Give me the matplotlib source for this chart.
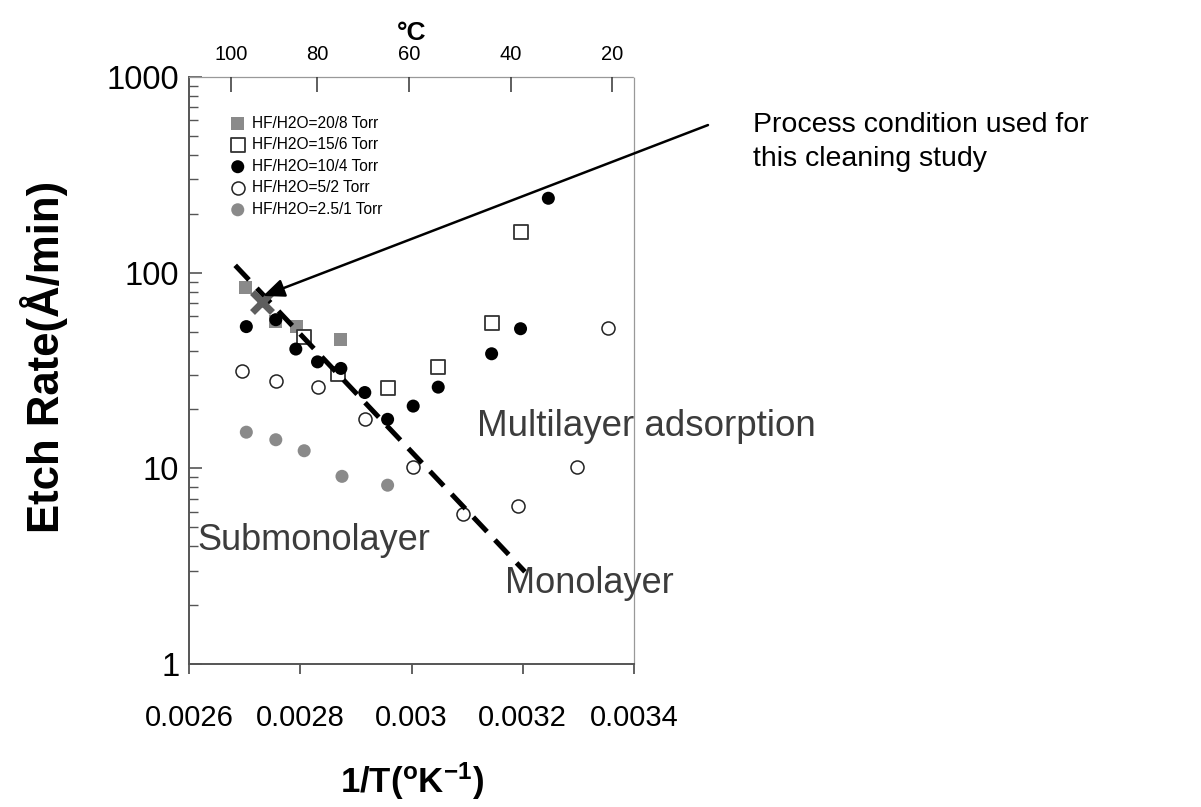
import matplotlib
matplotlib.use("Agg")
import matplotlib.pyplot as plt
from matplotlib.ticker import LogLocator, NullFormatter

plt.rcParams["font.family"] = ["Liberation Sans", "DejaVu Sans"]
plt.rcParams["mathtext.fontset"] = "custom"
plt.rcParams["mathtext.rm"] = "Liberation Sans"
plt.rcParams["mathtext.bf"] = "Liberation Sans:bold"

# HF/H2O = 20/8 Torr (grey squares)
x_20_8 = [0.002702, 0.002756, 0.002794, 0.002873]
y_20_8 = [84, 56, 53, 45.5]
# HF/H2O = 15/6 Torr (open squares)
x_15_6 = [0.002807, 0.002867, 0.002957, 0.003048, 0.003144, 0.003197]
y_15_6 = [47, 30.3, 25.8, 33, 55, 162]
# HF/H2O = 10/4 Torr (black circles)
x_10_4 = [0.002703, 0.002756, 0.002792, 0.002831, 0.002873, 0.002916,
          0.002957, 0.003003, 0.003048, 0.003144, 0.003196, 0.003246]
y_10_4 = [53, 57.5, 40.7, 35, 32.4, 24.4, 17.8, 20.8, 26, 38.5, 51.7, 240]
# HF/H2O = 5/2 Torr (open circles)
x_5_2 = [0.002696, 0.002756, 0.002831, 0.002916, 0.003002, 0.003093,
         0.003192, 0.003298, 0.003354]
y_5_2 = [31.5, 28, 26, 17.9, 10.2, 5.85, 6.4, 10.2, 52]
# HF/H2O = 2.5/1 Torr (grey circles)
x_25_1 = [0.002703, 0.002756, 0.002807, 0.002875, 0.002957]
y_25_1 = [15.3, 14, 12.3, 9.1, 8.2]

# process condition used (grey X) and the arrow pointing at it
process_x, process_y = 0.002731, 71
arrow_tip = (0.002733, 76)
arrow_tail = (0.003533, 568)

# dashed boundary between submonolayer and multilayer regimes
guide_x = [0.002683, 0.003204]
guide_y = [109, 2.96]

x_ticks = [0.0026, 0.0028, 0.003, 0.0032, 0.0034]
x_tick_labels = ["0.0026", "0.0028", "0.003", "0.0032", "0.0034"]
y_ticks = [1, 10, 100, 1000]
y_tick_labels = ["1", "10", "100", "1000"]
celsius_labels = ["100", "80", "60", "40", "20"]
celsius_pos = [0.002675, 0.00283, 0.002996, 0.003179, 0.00336]

GREY = "#8a8a8a"
TEXT_GREY = "#3c3c3c"

fig = plt.figure(figsize=(12.01, 8.07), dpi=100)
ax = fig.add_axes([0.1574, 0.1772, 0.3705, 0.7274])
ax.set_yscale("log")
ax.set_xlim(0.0026, 0.0034)
ax.set_ylim(1, 1000)

ms = 88
ax.scatter(x_5_2, y_5_2, s=ms, marker="o", facecolor="white", edgecolor="#222222",
           linewidth=1.1, zorder=3, label="HF/H2O=5/2 Torr")
ax.plot(guide_x, guide_y, color="black", lw=3.6, dashes=(4, 2.3),
        solid_capstyle="butt", dash_capstyle="butt", zorder=4)
ax.scatter(x_20_8, y_20_8, s=ms, marker="s", color=GREY, edgecolor="none",
           zorder=3, label="HF/H2O=20/8 Torr")
ax.scatter(x_15_6, y_15_6, s=ms, marker="s", facecolor="white", edgecolor="#333333",
           linewidth=1.3, zorder=3, label="HF/H2O=15/6 Torr")
ax.scatter(x_10_4, y_10_4, s=ms, marker="o", color="black", edgecolor="none",
           zorder=5, label="HF/H2O=10/4 Torr")
ax.scatter(x_25_1, y_25_1, s=ms, marker="o", color=GREY, edgecolor="none",
           zorder=3, label="HF/H2O=2.5/1 Torr")
ax.plot([process_x], [process_y], marker="x", color="#5e5e5e", markersize=15,
        mew=5, zorder=6)

ax.annotate("", xy=arrow_tip, xytext=arrow_tail, annotation_clip=False,
            arrowprops=dict(arrowstyle="-|>,head_length=1.3,head_width=0.55",
                            color="black", lw=1.8, shrinkA=0, shrinkB=0),
            zorder=7)

handles, labels = ax.get_legend_handles_labels()
order = ["HF/H2O=20/8 Torr", "HF/H2O=15/6 Torr", "HF/H2O=10/4 Torr",
         "HF/H2O=5/2 Torr", "HF/H2O=2.5/1 Torr"]
hmap = dict(zip(labels, handles))
ax.legend([hmap[k] for k in order], order, loc="upper left",
          bbox_to_anchor=(0.092, 0.934), frameon=False, fontsize=11.2,
          handlelength=1.0, handletextpad=0.4, labelspacing=0.42,
          borderpad=0, borderaxespad=0, markerscale=1.0)

# region labels
ax.text(0.0026144, 4.3, "Submonolayer", fontsize=26, color=TEXT_GREY,
        va="center", ha="left")
ax.text(0.0031178, 16.3, "Multilayer adsorption", fontsize=26.5, color=TEXT_GREY,
        va="center", ha="left", clip_on=False)
ax.text(0.003168, 2.59, "Monolayer", fontsize=26, color=TEXT_GREY,
        va="center", ha="left", clip_on=False)
fig.text(753 / 1201, 1 - 142 / 807, "Process condition used for\nthis cleaning study",
         fontsize=20.5, color="black", va="center", ha="left", linespacing=1.4)

# axes styling
for side in ("left", "bottom"):
    ax.spines[side].set_color("#555555")
    ax.spines[side].set_linewidth(1.4)
for side in ("top", "right"):
    ax.spines[side].set_color("#999999")
    ax.spines[side].set_linewidth(0.9)
    ax.spines[side].set_linestyle((0, (1, 1)))

ax.set_xticks(x_ticks)
ax.set_xticklabels(x_tick_labels)
ax.tick_params(axis="x", which="major", direction="out", length=7, width=1.3,
               color="#555555", labelsize=21, pad=22)
ax.set_yticks(y_ticks)
ax.set_yticklabels(y_tick_labels)
ax.yaxis.set_minor_locator(LogLocator(base=10, subs=range(2, 10)))
ax.yaxis.set_minor_formatter(NullFormatter())
ax.tick_params(axis="y", which="major", direction="in", length=9, width=1.2,
               color="#555555", labelsize=23.5, pad=7)
ax.tick_params(axis="y", which="minor", direction="in", length=6.5, width=1.0,
               color="#555555")

ax.set_xlabel(r"1/T($\mathbf{^{o}}$K$\mathbf{^{-1}}$)", fontsize=25,
              fontweight="bold", labelpad=20)
ax.set_ylabel("Etch Rate(Å/min)", fontsize=31.5, fontweight="bold")
ax.yaxis.set_label_coords(-0.272, 0.523)

top = ax.twiny()
top.set_xlim(ax.get_xlim())
top.set_xticks(celsius_pos)
top.set_xticklabels(celsius_labels)
top.tick_params(axis="x", direction="in", length=11, width=1.1, color="#333333",
                labelsize=14.5, pad=9)
for side in top.spines:
    top.spines[side].set_visible(False)
top.set_xlabel("°C", fontsize=19, fontweight="bold", labelpad=4)

fig.savefig("out.png", dpi=100)
